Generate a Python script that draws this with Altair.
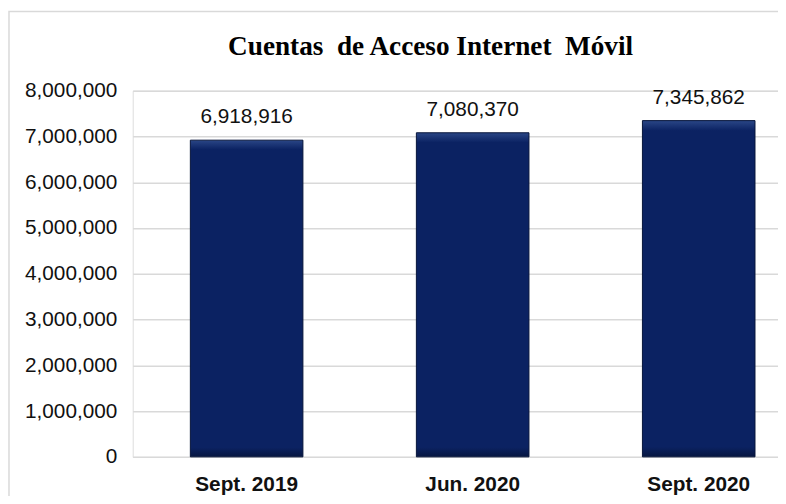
import altair as alt
import pandas as pd

categories = ["Sept. 2019", "Jun. 2020", "Sept. 2020"]
values = [6918916, 7080370, 7345862]
y_ticks = [0, 1000000, 2000000, 3000000, 4000000, 5000000, 6000000, 7000000, 8000000]
title_text = "Cuentas\u00a0 de Acceso Internet\u00a0 Móvil"

df = pd.DataFrame({"periodo": categories, "cuentas": values})

W, H = 652, 370
base = alt.Chart(df)

x_enc = alt.X(
    "periodo:N", sort=categories, title=None,
    scale=alt.Scale(range=[0, 687], paddingInner=0.502, paddingOuter=0.255),
    axis=alt.Axis(labelAngle=0, labelFont="Liberation Sans", labelFontSize=21,
                  labelFontWeight="bold", labelColor="#111111", ticks=False,
                  domain=False, labelPadding=17, grid=False),
)
y_enc = alt.Y(
    "cuentas:Q", title=None,
    scale=alt.Scale(domain=[0, 8000000], nice=False),
    axis=alt.Axis(values=y_ticks, labelExpr="format(datum.value, ',')",
                  labelFont="Liberation Sans",
                  labelFontSize=21, labelColor="#111111", ticks=False,
                  domain=False, gridColor="#d9d9d9", gridWidth=1.5,
                  labelPadding=16),
)

fill = alt.Gradient(
    gradient="linear", x1=0, y1=0, x2=0, y2=1,
    stops=[
        alt.GradientStop(offset=0, color="#2a4686"),
        alt.GradientStop(offset=0.03, color="#0b2262"),
        alt.GradientStop(offset=0.97, color="#0b2262"),
        alt.GradientStop(offset=1, color="#061640"),
    ],
)

bars = base.mark_bar(color=fill, stroke="#06143a", strokeWidth=1).encode(x=x_enc, y=y_enc)
labels = base.mark_text(baseline="bottom", dy=-13, fontSize=21, font="Liberation Sans",
                        color="#111111").encode(
    x=x_enc, y=y_enc, text=alt.Text("cuentas:Q", format=",")
)

border = alt.Chart(pd.DataFrame({"a": [0]})).mark_rect(
    filled=False, stroke="#d9d9d9", strokeWidth=1.5
).encode(
    x=alt.value(-125), x2=alt.value(W + 40), y=alt.value(-80), y2=alt.value(H + 80)
)

chart = alt.layer(border, bars, labels).properties(
    width=W, height=H,
    autosize=alt.AutoSizeParams(type="none"),
    padding={"left": 126, "top": 81, "right": 0, "bottom": 37},
    title=alt.TitleParams(title_text, font="Liberation Serif", fontSize=27.5,
                          fontWeight="bold", color="#000000", anchor="middle",
                          dx=-25, offset=-72, baseline="alphabetic"),
).configure_view(stroke=None).configure(background="white")

chart.save("out.html", embed_options={"renderer": "svg", "actions": False})
